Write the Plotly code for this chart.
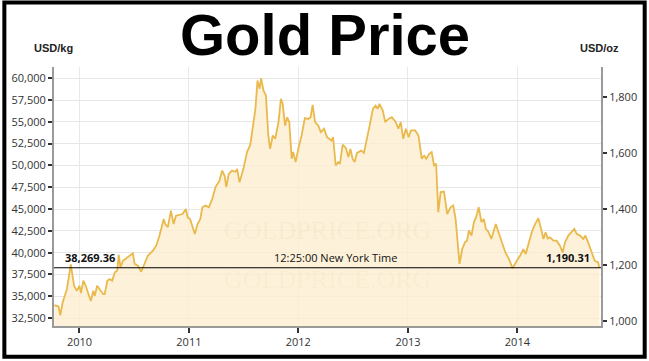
import plotly.graph_objects as go

# ---- data ----
dates = [
    "2009-10-09", "2009-10-23", "2009-10-29", "2009-11-06", "2009-11-20", "2009-12-01", "2009-12-03",
    "2009-12-14", "2009-12-23", "2010-01-01", "2010-01-06", "2010-01-14", "2010-01-22", "2010-01-31",
    "2010-02-08", "2010-02-16", "2010-02-21", "2010-03-01", "2010-03-10", "2010-03-21", "2010-03-26",
    "2010-04-04", "2010-04-12", "2010-04-20", "2010-04-29", "2010-05-07", "2010-05-12", "2010-05-18",
    "2010-05-26", "2010-06-06", "2010-06-17", "2010-06-28", "2010-07-04", "2010-07-15", "2010-07-26",
    "2010-08-05", "2010-08-17", "2010-09-03", "2010-09-14", "2010-09-25", "2010-10-09", "2010-10-14",
    "2010-10-23", "2010-11-02", "2010-11-11", "2010-11-19", "2010-11-27", "2010-12-11", "2010-12-22",
    "2010-12-28", "2011-01-05", "2011-01-21", "2011-01-30", "2011-02-08", "2011-02-15", "2011-02-26",
    "2011-03-09", "2011-03-20", "2011-03-31", "2011-04-13", "2011-04-22", "2011-04-30", "2011-05-06",
    "2011-05-14", "2011-05-25", "2011-06-05", "2011-06-11", "2011-06-19", "2011-07-02", "2011-07-14",
    "2011-07-25", "2011-08-03", "2011-08-11", "2011-08-18", "2011-08-25", "2011-08-30", "2011-09-07",
    "2011-09-15", "2011-09-23", "2011-09-29", "2011-10-08", "2011-10-16", "2011-10-27", "2011-11-04",
    "2011-11-10", "2011-11-18", "2011-11-25", "2011-12-02", "2011-12-10", "2011-12-15", "2011-12-23",
    "2012-01-01", "2012-01-12", "2012-01-23", "2012-02-03", "2012-02-11", "2012-02-18", "2012-02-26",
    "2012-03-08", "2012-03-16", "2012-03-27", "2012-04-06", "2012-04-21", "2012-04-26", "2012-05-05",
    "2012-05-13", "2012-05-19", "2012-05-28", "2012-06-08", "2012-06-16", "2012-06-23", "2012-06-30",
    "2012-07-07", "2012-07-15", "2012-07-29", "2012-08-07", "2012-08-15", "2012-08-26", "2012-09-06",
    "2012-09-15", "2012-09-22", "2012-09-28", "2012-10-09", "2012-10-17", "2012-10-28", "2012-11-08",
    "2012-11-21", "2012-11-30", "2012-12-08", "2012-12-16", "2012-12-25", "2013-01-03", "2013-01-11",
    "2013-01-25", "2013-02-05", "2013-02-16", "2013-02-24", "2013-03-03", "2013-03-12", "2013-03-21",
    "2013-03-29", "2013-04-05", "2013-04-12", "2013-04-20", "2013-05-01", "2013-05-12", "2013-05-23",
    "2013-06-01", "2013-06-09", "2013-06-18", "2013-06-22", "2013-07-01", "2013-07-10", "2013-07-17",
    "2013-07-23", "2013-08-01", "2013-08-09", "2013-08-16", "2013-08-25", "2013-09-03", "2013-09-11",
    "2013-09-18", "2013-09-27", "2013-10-06", "2013-10-14", "2013-10-21", "2013-10-30", "2013-11-10",
    "2013-11-22", "2013-12-03", "2013-12-16", "2013-12-30", "2014-01-10", "2014-01-21", "2014-01-29",
    "2014-02-07", "2014-02-18", "2014-03-01", "2014-03-12", "2014-03-21", "2014-03-29", "2014-04-05",
    "2014-04-12", "2014-04-20", "2014-05-01", "2014-05-12", "2014-05-23", "2014-06-01", "2014-06-09",
    "2014-06-20", "2014-07-01", "2014-07-10", "2014-07-18", "2014-07-29", "2014-08-09", "2014-08-16",
    "2014-08-25", "2014-09-05", "2014-09-16", "2014-09-27", "2014-10-02",
]
usd_oz = [
    1057, 1052, 1021, 1067, 1114, 1186, 1202,
    1126, 1108, 1126, 1100, 1144, 1126, 1096,
    1072, 1108, 1090, 1126, 1114, 1096, 1096,
    1144, 1150, 1144, 1174, 1180, 1236, 1192,
    1215, 1224, 1231, 1242, 1204, 1198, 1176,
    1200, 1233, 1251, 1269, 1305, 1364, 1346,
    1335, 1394, 1346, 1376, 1379, 1382, 1400,
    1370, 1364, 1311, 1346, 1364, 1406, 1412,
    1406, 1436, 1478, 1501, 1537, 1519, 1478,
    1525, 1537, 1532, 1543, 1495, 1543, 1603,
    1629, 1697, 1757, 1858, 1829, 1866, 1822,
    1805, 1662, 1614, 1662, 1650, 1710, 1793,
    1775, 1697, 1727, 1710, 1579, 1603, 1567,
    1614, 1662, 1724, 1721, 1727, 1771, 1710,
    1697, 1674, 1686, 1656, 1644, 1656, 1555,
    1567, 1561, 1629, 1617, 1585, 1614, 1579,
    1567, 1600, 1608, 1600, 1638, 1697, 1757,
    1769, 1757, 1775, 1751, 1710, 1721, 1727,
    1710, 1686, 1710, 1650, 1686, 1656, 1680,
    1680, 1662, 1579, 1590, 1579, 1596, 1603,
    1555, 1561, 1388, 1460, 1462, 1382, 1406,
    1412, 1364, 1269, 1204, 1257, 1281, 1287,
    1323, 1305, 1353, 1370, 1406, 1353, 1364,
    1329, 1317, 1293, 1323, 1346, 1317, 1281,
    1245, 1224, 1188, 1215, 1233, 1257, 1239,
    1275, 1317, 1346, 1367, 1329, 1293, 1317,
    1295, 1299, 1287, 1287, 1269, 1245, 1281,
    1305, 1317, 1329, 1311, 1305, 1293, 1305,
    1281, 1251, 1215, 1210, 1190.31,
]

year_ticks = ["2010-01-01", "2011-01-01", "2012-01-01", "2013-01-01", "2014-01-01"]
year_labels = ["2010", "2011", "2012", "2013", "2014"]
kg_ticks = [32500, 35000, 37500, 40000, 42500, 45000, 47500, 50000, 52500, 55000, 57500, 60000]
oz_ticks = [1000, 1200, 1400, 1600, 1800]

title_text = "Gold Price"
left_unit = "USD/kg"
right_unit = "USD/oz"
last_kg_label = "38,269.36"
last_oz_label = "1,190.31"
last_oz_value = 1190.31
time_label = "12:25:00 New York Time"
watermark = "GOLDPRICE.ORG"

OZ_PER_KG = 32.1507
oz_range = [982.6, 1906.2]
kg_range = [oz_range[0] * OZ_PER_KG, oz_range[1] * OZ_PER_KG]
x_range = ["2009-10-08", "2014-10-07"]

W, H = 649, 361
ML, MR, MT, MB = 52, 46, 67, 33
PW, PH = W - ML - MR, H - MT - MB


def px(x):
    return (x - ML) / PW


def py(y):
    return (H - MB - y) / PH


tick_font = dict(family="Open Sans, Liberation Sans, sans-serif", size=11, color="#333333")

fig = go.Figure()
# invisible helper trace so that the left (USD/kg) axis is drawn
fig.add_trace(go.Scatter(
    x=x_range, y=kg_range, yaxis="y", mode="markers",
    marker=dict(size=1, color="rgba(0,0,0,0)"),
    hoverinfo="skip", showlegend=False,
))
fig.add_trace(go.Scatter(
    x=dates, y=usd_oz, yaxis="y2", mode="lines",
    line=dict(color="#e9b94c", width=1.8),
    fill="tozeroy", fillcolor="rgba(252,239,208,0.8)",
    hoverinfo="skip", showlegend=False,
))

fig.update_layout(
    width=W, height=H, autosize=False,
    margin=dict(l=ML, r=MR, t=MT, b=MB, pad=0),
    paper_bgcolor="white", plot_bgcolor="white",
    showlegend=False,
    xaxis=dict(
        type="date", range=x_range,
        tickvals=year_ticks, ticktext=year_labels,
        showgrid=True, gridcolor="#e8e8e8", gridwidth=1,
        showline=True, linecolor="#9a9a9a", linewidth=2,
        ticks="outside", ticklen=5, tickwidth=2, tickcolor="#333333",
        tickfont=tick_font, zeroline=False,
    ),
    yaxis=dict(
        range=kg_range, tickvals=kg_ticks, tickformat=",",
        showgrid=True, gridcolor="#e6e6e6", gridwidth=1,
        showline=True, linecolor="#9a9a9a", linewidth=2,
        ticks="outside", ticklen=4, tickwidth=2, tickcolor="#333333",
        tickfont=tick_font, zeroline=False, fixedrange=True,
    ),
    yaxis2=dict(
        range=oz_range, tickvals=oz_ticks, tickformat=",",
        overlaying="y", side="right", showgrid=False,
        showline=True, linecolor="#9a9a9a", linewidth=2,
        ticks="outside", ticklen=4, tickwidth=2, tickcolor="#333333",
        tickfont=tick_font, zeroline=False,
    ),
)

# last price line
fig.add_shape(type="line", xref="paper", x0=0, x1=1, yref="y2", y0=last_oz_value, y1=last_oz_value,
              line=dict(color="black", width=1.2), layer="above")

# outer frame
fig.add_shape(type="rect", xref="paper", yref="paper",
              x0=px(2), x1=px(647), y0=py(359), y1=py(2),
              line=dict(color="black", width=4), fillcolor="rgba(0,0,0,0)", layer="above")

ann = []
# watermark
ann.append(dict(text=watermark, x=px(328), y=py(232), xref="paper", yref="paper", showarrow=False,
                font=dict(family="Liberation Serif, serif", size=26, color="rgba(215,190,140,0.12)")))
ann.append(dict(text=watermark, x=px(328), y=py(298), xref="paper", yref="paper", showarrow=False,
                font=dict(family="Liberation Serif, serif", size=26, color="rgba(215,190,140,0.09)")))
# title
ann.append(dict(text="<b>" + title_text + "</b>", x=px(325), y=py(34), xref="paper", yref="paper",
                showarrow=False, xanchor="center", yanchor="middle",
                font=dict(family="Liberation Sans, Arial, sans-serif", size=58, color="black")))
# unit labels
ann.append(dict(text="<b>" + left_unit + "</b>", x=px(51), y=py(48), xref="paper", yref="paper",
                showarrow=False, xanchor="center", yanchor="middle",
                font=dict(family="Liberation Sans Narrow, Liberation Sans, Arial, sans-serif", size=11, color="#222222")))
ann.append(dict(text="<b>" + right_unit + "</b>", x=px(601), y=py(48), xref="paper", yref="paper",
                showarrow=False, xanchor="center", yanchor="middle",
                font=dict(family="Liberation Sans Narrow, Liberation Sans, Arial, sans-serif", size=11, color="#222222")))
# last price labels
ann.append(dict(text="<b>" + last_kg_label + "</b>", x=px(61), y=last_oz_value, xref="paper", yref="y2",
                showarrow=False, xanchor="left", yanchor="bottom", yshift=1,
                font=dict(family="Open Sans, Liberation Sans, sans-serif", size=11, color="#111111")))
ann.append(dict(text=time_label, x=px(336), y=last_oz_value, xref="paper", yref="y2",
                showarrow=False, xanchor="center", yanchor="bottom", yshift=1,
                font=dict(family="Open Sans, Liberation Sans, sans-serif", size=11, color="#111111")))
ann.append(dict(text="<b>" + last_oz_label + "</b>", x=px(594), y=last_oz_value, xref="paper", yref="y2",
                showarrow=False, xanchor="right", yanchor="bottom", yshift=1,
                font=dict(family="Open Sans, Liberation Sans, sans-serif", size=11, color="#111111")))
fig.update_layout(annotations=ann)

fig.write_html("out.html", config={"displayModeBar": False},
               post_script="document.body.style.margin='0';document.body.style.padding='0';")
